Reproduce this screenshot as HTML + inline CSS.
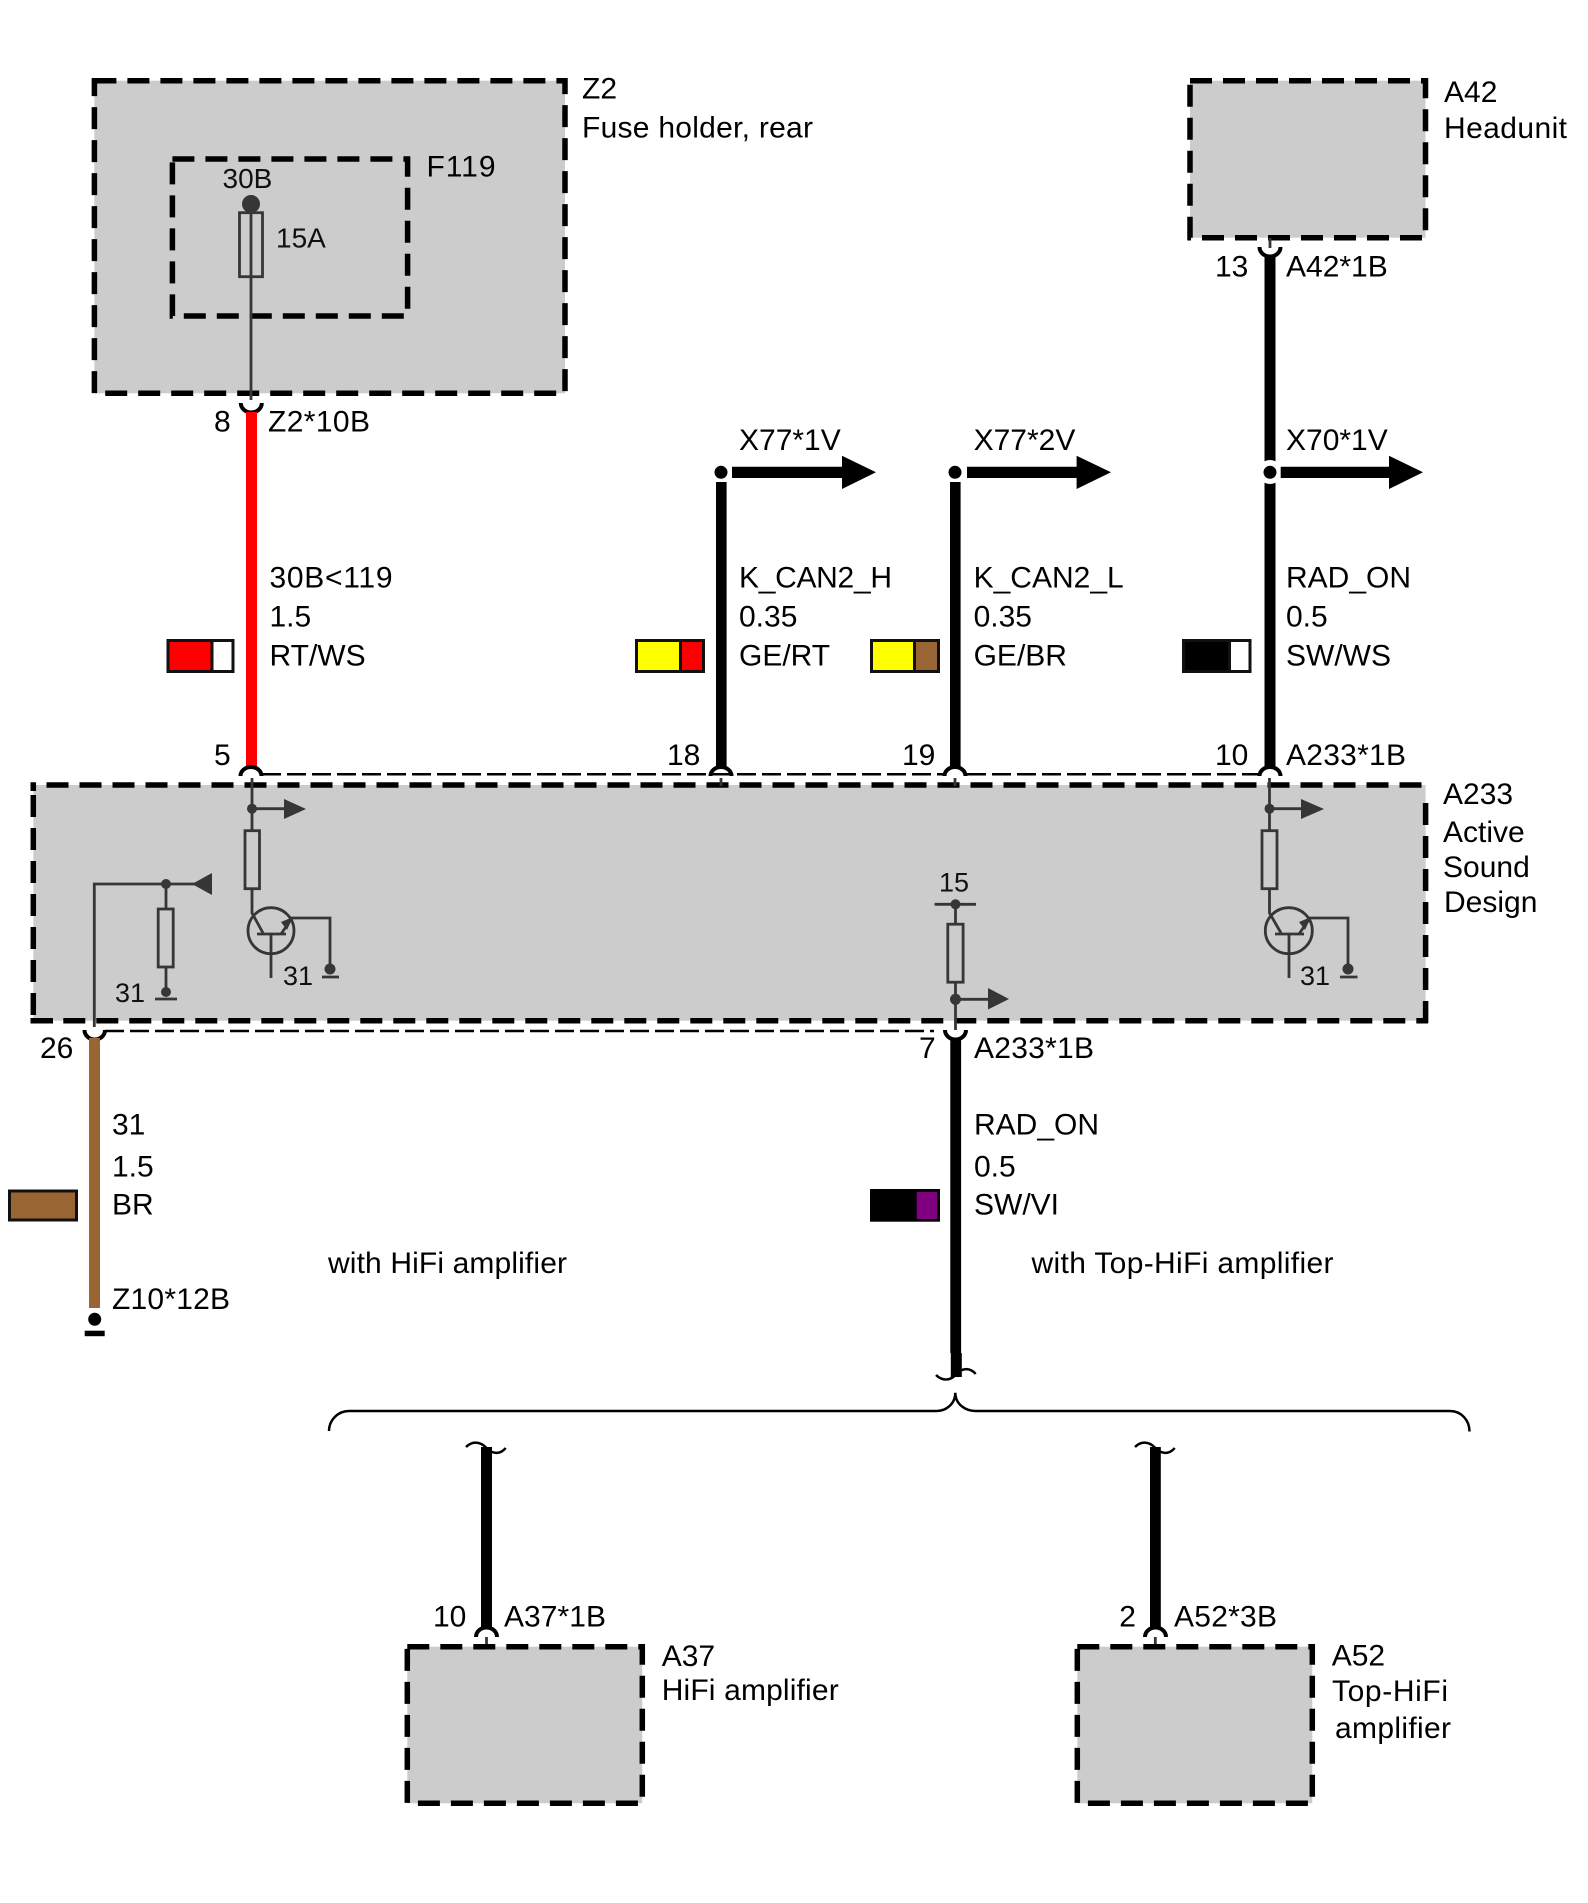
<!DOCTYPE html>
<html lang="en">
<head>
<meta charset="utf-8">
<title>Wiring diagram</title>
<style>
html,body{margin:0;padding:0;background:#fff}
svg{display:block}
text{font-family:"Liberation Sans",Arial,sans-serif;font-size:30px;fill:#000}
.s{font-size:27px;fill:#111}
.m{font-size:28px;fill:#111}
.box{fill:#ccc;stroke:#000;stroke-width:5.5;stroke-dasharray:22 11}
.edge{stroke:#000;stroke-width:5.5;stroke-dasharray:22 11;fill:none}
.in{stroke:#363636;stroke-width:2.8;fill:none}
.inf{fill:#363636}
.cup{stroke:#000;stroke-width:4;fill:none}
.thin{stroke:#000;stroke-width:2.5;stroke-dasharray:19 6;fill:none}
.sw{stroke:#111;stroke-width:3}
</style>
</head>
<body>
<svg xmlns="http://www.w3.org/2000/svg" width="1588" height="1903" viewBox="0 0 1588 1903">
<rect width="1588" height="1903" fill="#fff"/>

<!-- Z2 / F119 -->
<rect class="box" x="94.4" y="80.7" width="470.6" height="312.6"/>
<rect x="172.4" y="159" width="235.2" height="157" fill="none" stroke="#000" stroke-width="5.5" stroke-dasharray="22 11"/>
<path class="in" d="M251,204V400"/>
<circle class="inf" cx="251" cy="204" r="9"/>
<rect x="239.5" y="212.7" width="23" height="64" fill="none" stroke="#363636" stroke-width="2.8"/>
<text x="582" y="98.7">Z2</text>
<text x="582" y="137.7" textLength="231">Fuse holder, rear</text>
<text x="426.5" y="176.7" textLength="69">F119</text>
<text class="m" x="222.5" y="188">30B</text>
<text class="m" x="276" y="247.5">15A</text>
<path class="cup" d="M240.8,403A10.5,9.5 0 0 0 261.8,403"/>
<text x="214" y="431.5">8</text>
<text x="268" y="431.5" textLength="102">Z2*10B</text>

<!-- A42 -->
<rect class="box" x="1190" y="80.7" width="235.5" height="157"/>
<path d="M1270,238V248" stroke="#363636" stroke-width="2.8"/>
<path class="cup" d="M1259.5,247A10.5,9.5 0 0 0 1280.5,247"/>
<text x="1444" y="102">A42</text>
<text x="1444" y="138" textLength="123">Headunit</text>
<text x="1215" y="276.5">13</text>
<text x="1286" y="276.5">A42*1B</text>

<!-- Wires top -->
<rect x="246" y="412" width="11" height="356" fill="#f00"/>
<rect x="716" y="482" width="10.6" height="286" fill="#000"/>
<rect x="950" y="482" width="10.6" height="286" fill="#000"/>
<rect x="1264.5" y="256" width="11" height="512" fill="#000"/>

<!-- Branch arrows -->
<circle cx="1270" cy="472" r="12" fill="#fff"/>
<circle cx="721" cy="472.3" r="6.5" fill="#000"/>
<circle cx="955" cy="472.3" r="6.5" fill="#000"/>
<circle cx="1270" cy="472.3" r="6.5" fill="#000"/>
<path d="M732,466.7H842V455.7L876,472.3L842,489V478H732Z" fill="#000"/>
<path d="M967,466.7H1076.6V455.7L1111,472.3L1076.6,489V478H967Z" fill="#000"/>
<path d="M1280.7,466.7H1389V455.7L1423,472.3L1389,489V478H1280.7Z" fill="#000"/>
<text x="739" y="450">X77*1V</text>
<text x="973.6" y="450">X77*2V</text>
<text x="1286" y="450">X70*1V</text>

<!-- Wire labels -->
<text x="269.5" y="587.7" textLength="123">30B&lt;119</text>
<text x="269.5" y="626.7">1.5</text>
<text x="269.5" y="665.3">RT/WS</text>
<text x="739" y="587.7" textLength="153">K_CAN2_H</text>
<text x="739" y="626.7">0.35</text>
<text x="739" y="665.3">GE/RT</text>
<text x="973.6" y="587.7">K_CAN2_L</text>
<text x="973.6" y="626.7">0.35</text>
<text x="973.6" y="665.3">GE/BR</text>
<text x="1286" y="587.7">RAD_ON</text>
<text x="1286" y="626.7">0.5</text>
<text x="1286" y="665.3">SW/WS</text>

<!-- Swatches -->
<rect class="sw" x="168" y="640.5" width="44" height="31" fill="#f00"/>
<rect class="sw" x="212" y="640.5" width="21" height="31" fill="#fff"/>
<rect class="sw" x="636.5" y="640.5" width="44" height="31" fill="#ff0"/>
<rect class="sw" x="680.5" y="640.5" width="23" height="31" fill="#f00"/>
<rect class="sw" x="871.5" y="640.5" width="43" height="31" fill="#ff0"/>
<rect class="sw" x="914.5" y="640.5" width="24" height="31" fill="#996633"/>
<rect class="sw" x="1183.5" y="640.5" width="46" height="31" fill="#000"/>
<rect class="sw" x="1229.5" y="640.5" width="20.5" height="31" fill="#fff"/>

<!-- Top pins -->
<text x="214" y="765">5</text>
<text x="667" y="765">18</text>
<text x="902" y="765">19</text>
<text x="1215" y="765">10</text>
<text x="1286" y="765" textLength="120">A233*1B</text>
<path class="thin" d="M262,774.3H945M967,774.3H1259"/>
<path class="cup" d="M240.5,776A10.5,9 0 0 1 261.5,776"/>
<path class="cup" d="M710.5,776A10.5,9 0 0 1 731.5,776"/>
<path class="cup" d="M944.5,776A10.5,9 0 0 1 965.5,776"/>
<path class="cup" d="M1259.5,776A10.5,9 0 0 1 1280.5,776"/>

<!-- A233 -->
<rect x="33.3" y="785" width="1392.3" height="235.7" fill="#ccc"/>
<path class="edge" style="stroke-dashoffset:17" d="M30.5,785H1428.4"/>
<path class="edge" style="stroke-dashoffset:0" d="M1425.6,803V1023"/>
<path class="edge" style="stroke-dashoffset:0" d="M63.3,1020.7H1428"/>
<path d="M30.5,1020.7H53" stroke="#000" stroke-width="5.5"/>
<path class="edge" style="stroke-dashoffset:0" d="M33.3,795V1023"/>
<path d="M33.3,782.5V791" stroke="#000" stroke-width="5.5"/>
<text x="1443" y="804">A233</text>
<text x="1443" y="842">Active</text>
<text x="1443" y="877">Sound</text>
<text x="1444" y="912">Design</text>

<!-- A233 internal stubs -->
<path class="in" d="M721,778V786M955,778V786"/>

<!-- Left internal -->
<path class="in" d="M252,778V830.7"/>
<circle class="inf" cx="252" cy="808.7" r="5"/>
<path class="in" d="M252,808.7H285"/>
<path class="inf" d="M284,799L306,809L284,819Z"/>
<rect class="in" x="245" y="830.7" width="14.5" height="58"/>
<path class="in" d="M252,888.7V913L263,933"/>
<circle class="in" cx="271" cy="930.7" r="23"/>
<path class="in" d="M257,934H286M271,934V978M281,934L292,918H330V969"/>
<path class="inf" d="M293,917L281,922L287,930Z"/>
<circle class="inf" cx="330" cy="969" r="5.5"/>
<path class="in" d="M322,977H339"/>
<text class="s" x="283" y="985">31</text>

<path class="in" d="M94.3,1027V884H195"/>
<circle class="inf" cx="166" cy="884" r="5"/>
<path class="inf" d="M192,884L212,873V895Z"/>
<path class="in" d="M166,884V909M166,967V992"/>
<rect class="in" x="158.2" y="909" width="15" height="58"/>
<circle class="inf" cx="166" cy="992" r="5"/>
<path class="in" d="M155,999H177"/>
<text class="s" x="115" y="1002">31</text>

<!-- Middle internal -->
<text class="s" x="939" y="891.7">15</text>
<path class="in" d="M934.6,904.3H976M955.5,904.3V923.7M955.5,981.7V1030"/>
<circle class="inf" cx="955.5" cy="904.3" r="5"/>
<rect class="in" x="947.8" y="924.2" width="15.3" height="58"/>
<circle class="inf" cx="955.5" cy="999.3" r="5.5"/>
<path class="in" d="M955.5,999.3H990"/>
<path class="inf" d="M988,988L1009,999L988,1009.5Z"/>

<!-- Right internal -->
<path class="in" d="M1269.5,778V830.7"/>
<circle class="inf" cx="1269.5" cy="808.7" r="5"/>
<path class="in" d="M1269.5,808.7H1302"/>
<path class="inf" d="M1301,799L1324,809L1301,819Z"/>
<rect class="in" x="1262" y="830.7" width="15" height="58"/>
<path class="in" d="M1269.5,888.7V913L1281,933"/>
<ellipse class="in" cx="1288.8" cy="930.7" rx="23.5" ry="23"/>
<path class="in" d="M1275,934H1304M1289,934V978M1299,934L1310,918H1348V969"/>
<path class="inf" d="M1311,917L1299,922L1305,930Z"/>
<circle class="inf" cx="1348" cy="969" r="5.5"/>
<path class="in" d="M1340,977H1357.5"/>
<text class="s" x="1300" y="985">31</text>

<!-- Bottom pins -->
<path class="thin" d="M105,1031H934"/>
<path class="cup" d="M84.5,1030A10.2,9.5 0 0 0 105,1030"/>
<path class="cup" d="M945,1030A10.5,9.5 0 0 0 966,1030"/>
<text x="40" y="1058">26</text>
<text x="919" y="1058">7</text>
<text x="974" y="1058" textLength="120">A233*1B</text>

<!-- Brown wire -->
<rect x="89" y="1038" width="11" height="270" fill="#996633"/>
<circle cx="94.7" cy="1319.3" r="6.5" fill="#000"/>
<rect x="84.7" y="1330.7" width="20" height="5.5" fill="#000"/>
<text x="112" y="1134.7">31</text>
<text x="112" y="1176.7">1.5</text>
<text x="112" y="1214.3">BR</text>
<text x="112" y="1309" textLength="118">Z10*12B</text>
<rect class="sw" x="9.5" y="1191" width="67" height="29" fill="#996633"/>
<text x="328" y="1273" textLength="239">with HiFi amplifier</text>

<!-- Black wire down -->
<rect x="950.3" y="1038" width="10.8" height="315" fill="#000"/>
<rect x="950.8" y="1353" width="11" height="24" fill="#000"/>
<path d="M936,1375C942,1381 950,1381 955.5,1375C960,1369 969,1366 975.7,1374" fill="none" stroke="#000" stroke-width="2.5"/>
<text x="974" y="1134.3">RAD_ON</text>
<text x="974" y="1176.7">0.5</text>
<text x="974" y="1214.3">SW/VI</text>
<rect x="870" y="1189" width="70" height="32.7" fill="#000"/>
<rect x="916.7" y="1192" width="20.6" height="27" fill="#800080"/>
<text x="1031.5" y="1273" textLength="302">with Top-HiFi amplifier</text>

<!-- Brace -->
<path d="M329,1431C329,1420 338,1411 349,1411H936.7C946,1411 955.3,1404 955.3,1392.7C955.3,1404 965,1411 975.7,1411H1450C1461,1411 1469.5,1420 1469.5,1431.5" fill="none" stroke="#000" stroke-width="2.5"/>

<!-- A37 -->
<rect x="481" y="1447" width="11" height="181" fill="#000"/>
<path d="M466,1447C472,1441 480,1441 486.5,1448C492,1454 500,1455 505.7,1448" fill="none" stroke="#000" stroke-width="2.5"/>
<path class="cup" d="M476,1637A10.5,9.5 0 0 1 497,1637"/>
<path class="in" d="M486.5,1637V1646"/>
<rect class="box" x="407.3" y="1646.7" width="235" height="156.6"/>
<text x="433" y="1626.7">10</text>
<text x="504" y="1626.7" textLength="102">A37*1B</text>
<text x="661.7" y="1666">A37</text>
<text x="661.7" y="1700" textLength="177">HiFi amplifier</text>

<!-- A52 -->
<rect x="1150" y="1447" width="10.8" height="181" fill="#000"/>
<path d="M1135,1447C1141,1441 1149,1441 1155.3,1448C1161,1454 1169,1455 1174.7,1448" fill="none" stroke="#000" stroke-width="2.5"/>
<path class="cup" d="M1145,1637A10.5,9.5 0 0 1 1166,1637"/>
<path class="in" d="M1155.3,1637V1646"/>
<rect class="box" x="1077.3" y="1646.7" width="235" height="156.6"/>
<text x="1119.3" y="1626.7">2</text>
<text x="1174" y="1626.7" textLength="103">A52*3B</text>
<text x="1331.7" y="1665.7">A52</text>
<text x="1332" y="1701" textLength="116">Top-HiFi</text>
<text x="1335" y="1738" textLength="116">amplifier</text>
</svg>
</body>
</html>
